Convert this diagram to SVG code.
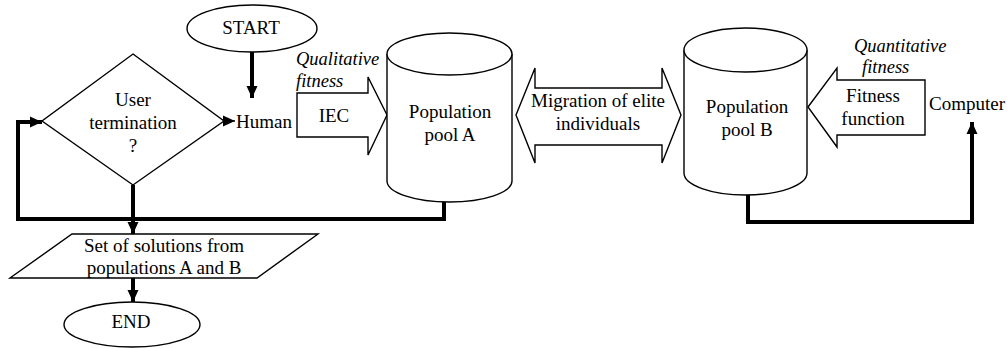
<svg xmlns="http://www.w3.org/2000/svg" width="1007" height="349" viewBox="0 0 1007 349">
<style>
.s{fill:#fff;stroke:#000;stroke-width:1.4}
.t{font-family:'Liberation Serif','Times New Roman',Times,'DejaVu Serif',serif;font-size:19px;fill:#000;text-anchor:middle}
.i{font-family:'Liberation Serif','Times New Roman',Times,'DejaVu Serif',serif;font-size:18.5px;font-style:italic;fill:#000}
.c{fill:none;stroke:#000;stroke-width:4}
</style>
<defs>
<marker id="ah" markerUnits="userSpaceOnUse" markerWidth="14" markerHeight="14" viewBox="0 0 14 14" refX="12" refY="7" orient="auto">
<path d="M0,1.5 L12,7 L0,12.5 Z" fill="#000"/>
</marker>
</defs>
<rect width="1007" height="349" fill="#fff"/>
<g id="start">
<ellipse class="s" cx="252" cy="28.5" rx="65" ry="23.5"/>
<text class="t" x="251" y="34">START</text>
</g>
<g id="decision">
<polygon class="s" points="133,54 224,121 133,185 42,121"/>
<text class="t" x="133" y="106">User</text>
<text class="t" x="133" y="129">termination</text>
<text class="t" x="133" y="152">?</text>
</g>
<g id="human">
<text class="t" x="264" y="128">Human</text>
</g>
<g id="iec">
<polygon class="s" points="297,93 368,93 368,77 387,115 368,155 368,137 297,137"/>
<text class="t" x="334" y="122">IEC</text>
<text class="i" x="296" y="65">Qualitative</text>
<text class="i" x="296" y="87">fitness</text>
</g>
<g id="poolA">
<path class="s" d="M387,54 L387,181 A62.5,21 0 0 0 512,181 L512,54"/>
<ellipse class="s" cx="449.5" cy="54" rx="62.5" ry="21"/>
<text class="t" x="450" y="118">Population</text>
<text class="t" x="450" y="141">pool A</text>
</g>
<g id="migration">
<polygon class="s" points="516,115 535,68 535,88 662,88 662,68 681,115 662,163 662,145 535,145 535,163"/>
<text class="t" x="598" y="107">Migration of elite</text>
<text class="t" x="598" y="130">individuals</text>
</g>
<g id="poolB">
<path class="s" d="M684,50 L684,173 A61.5,22 0 0 0 807,173 L807,50"/>
<ellipse class="s" cx="745.5" cy="50" rx="61.5" ry="22"/>
<text class="t" x="747" y="113">Population</text>
<text class="t" x="747" y="136">pool B</text>
</g>
<g id="fitness">
<polygon class="s" points="808,107 837,68 837,80 925,80 925,135 837,135 837,147"/>
<text class="t" x="873" y="102">Fitness</text>
<text class="t" x="873" y="125">function</text>
<text class="i" x="854" y="52">Quantitative</text>
<text class="i" x="862" y="73">fitness</text>
</g>
<g id="computer">
<text class="t" x="967" y="110">Computer</text>
</g>
<g id="solutions">
<polygon class="s" points="72,234 318,234 257,278 10,278"/>
<text class="t" x="164" y="252">Set of solutions from</text>
<text class="t" x="164" y="274">populations A and B</text>
</g>
<g id="end">
<ellipse class="s" cx="132" cy="324.5" rx="68" ry="22.5"/>
<text class="t" x="131" y="328">END</text>
</g>
<g id="connectors">
<line class="c" x1="252" y1="52" x2="252" y2="98" marker-end="url(#ah)"/>
<line x1="224" y1="121" x2="235" y2="121" stroke="#000" stroke-width="1.4" marker-end="url(#ah)"/>
<polyline class="c" points="444,202 444,219 18,219 18,122 42,122" marker-end="url(#ah)"/>
<line class="c" x1="133" y1="185" x2="133" y2="234" marker-end="url(#ah)"/>
<line class="c" x1="133" y1="278" x2="133" y2="302" marker-end="url(#ah)"/>
<polyline class="c" points="748,195 748,222 972,222 972,122" marker-end="url(#ah)"/>
</g>
</svg>
